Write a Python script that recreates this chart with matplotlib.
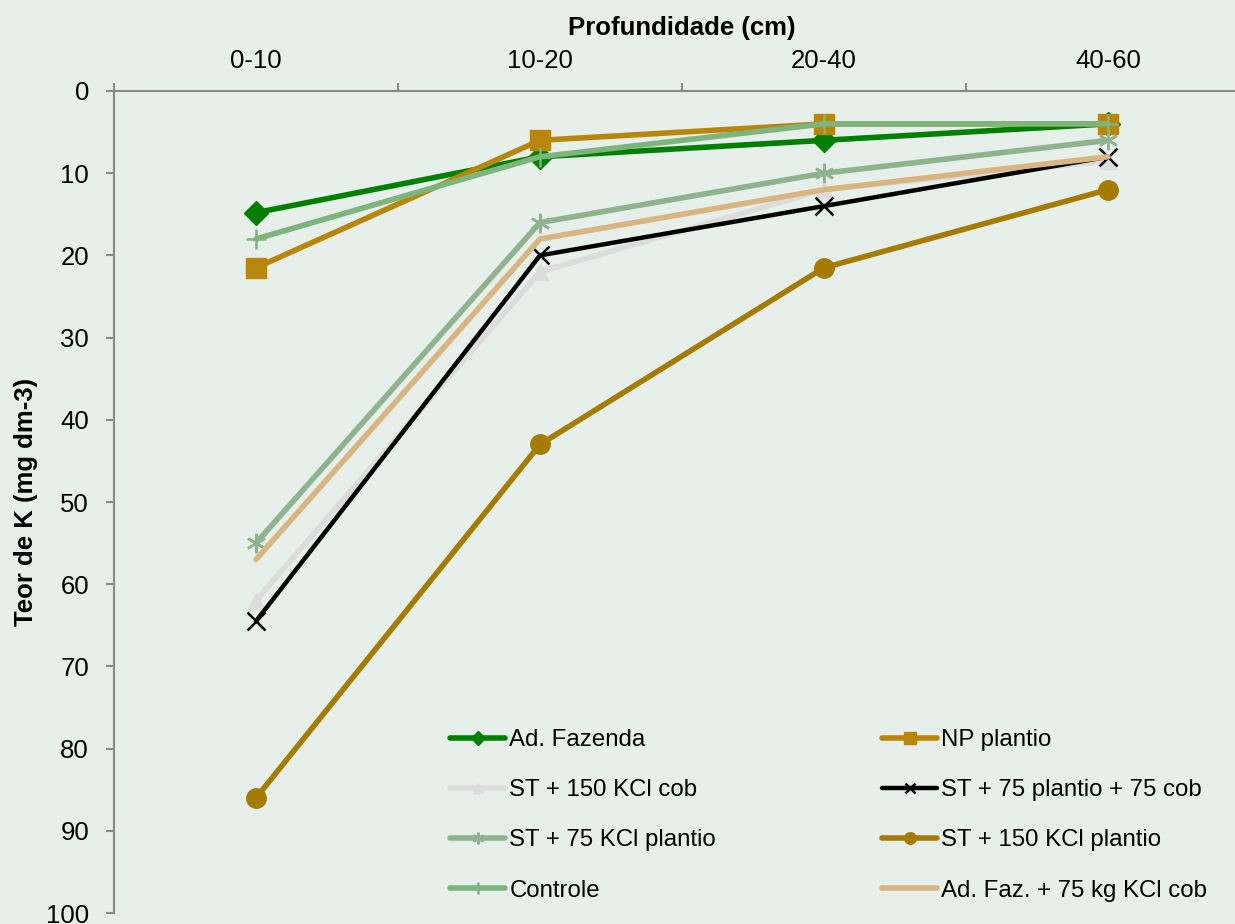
import matplotlib
matplotlib.use("Agg")
import matplotlib.pyplot as plt
from matplotlib.ticker import FixedLocator, NullFormatter

plt.rcParams['font.family'] = ['Liberation Sans', 'DejaVu Sans']

categories = ["0-10", "10-20", "20-40", "40-60"]
series_names = ["Ad. Fazenda", "NP plantio", "ST + 150 KCl cob", "ST + 75 plantio + 75 cob",
                "ST + 75 KCl plantio", "ST + 150 KCl plantio", "Controle", "Ad. Faz. + 75 kg KCl cob"]
ad_fazenda = [14.8, 8.0, 6.0, 4.0]
np_plantio = [21.5, 6.0, 4.0, 4.0]
st150_cob = [62.0, 22.0, 12.0, 8.5]
st75_75 = [64.5, 20.0, 14.0, 8.0]
st75_plantio = [55.0, 16.0, 10.0, 6.0]
st150_plantio = [86.0, 43.0, 21.5, 12.0]
controle = [18.0, 8.0, 4.0, 4.0]
adfaz_75 = [57.0, 18.0, 12.0, 8.0]

values = [ad_fazenda, np_plantio, st150_cob, st75_75, st75_plantio, st150_plantio, controle, adfaz_75]
colors = ["#008000", "#B8860B", "#DCDCDC", "#000000", "#8FB28F", "#A67C00", "#7DB57D", "#D9B580"]
markers = ["D", "s", "^", "x", (6, 2, 0), "o", "+", None]
msizes = [12, 14, 11, 13, 14, 14, 14, 0]
lws = [4.0, 4.0, 4.0, 3.2, 4.0, 4.0, 4.0, 4.0]

FS = 18.5
LFS = 17.3
bg = "#E6EFE9"
fig = plt.figure(figsize=(12.35, 9.24), dpi=100, facecolor=bg)
W, H = 1235, 924
ax = fig.add_axes([114 / W, (H - 913) / H, 1136 / W, 822 / H])
ax.set_facecolor(bg)

xs = [0.5 + i for i in range(len(categories))]
handles = []
for name, v, c, m, ms, lw in zip(series_names, values, colors, markers, msizes, lws):
    mew = 1.8 if m in ("x", "+", (6, 2, 0)) else 1.0
    h, = ax.plot(xs, v, color=c, lw=lw, marker=m, markersize=ms, markeredgewidth=mew,
                 markeredgecolor=c, markerfacecolor=c, label=name, clip_on=False,
                 solid_joinstyle='round', solid_capstyle='round')
    handles.append(h)

ax.set_xlim(0, 4)
ax.set_ylim(100, 0)
ax.xaxis.tick_top()
ax.xaxis.set_label_position('top')
ax.xaxis.set_major_locator(FixedLocator([0, 1, 2, 3, 4]))
ax.xaxis.set_major_formatter(NullFormatter())
ax.xaxis.set_minor_locator(FixedLocator(xs))
ax.set_xticklabels(categories, minor=True)
ax.tick_params(axis='x', which='minor', length=0, pad=13, labelsize=FS)
ax.tick_params(axis='x', which='major', length=6, width=1.5, color="#898989", direction='out')
ax.set_yticks(range(0, 101, 10))
ax.tick_params(axis='y', length=6, width=1.5, color="#898989", labelsize=FS, pad=12)

for s in ['right', 'bottom']:
    ax.spines[s].set_visible(False)
for s in ['top', 'left']:
    ax.spines[s].set_color("#898989")
    ax.spines[s].set_linewidth(1.5)

ax.set_xlabel("Profundidade (cm)", fontsize=FS, fontweight='bold', labelpad=10)
ax.set_ylabel("Teor de K (mg dm-3)", fontsize=FS, fontweight='bold', labelpad=6)

order = [0, 2, 4, 6, 1, 3, 5, 7]
leg = fig.legend([handles[i] for i in order], [series_names[i] for i in order],
                 ncol=2, loc='upper left', bbox_to_anchor=(450 / W, 1 - 729 / H),
                 frameon=False, fontsize=LFS, handlelength=2.3, handletextpad=0.17,
                 columnspacing=6.9, labelspacing=1.175, markerscale=0.6,
                 borderaxespad=0, borderpad=0)

fig.savefig("out.png", dpi=100, facecolor=bg)
